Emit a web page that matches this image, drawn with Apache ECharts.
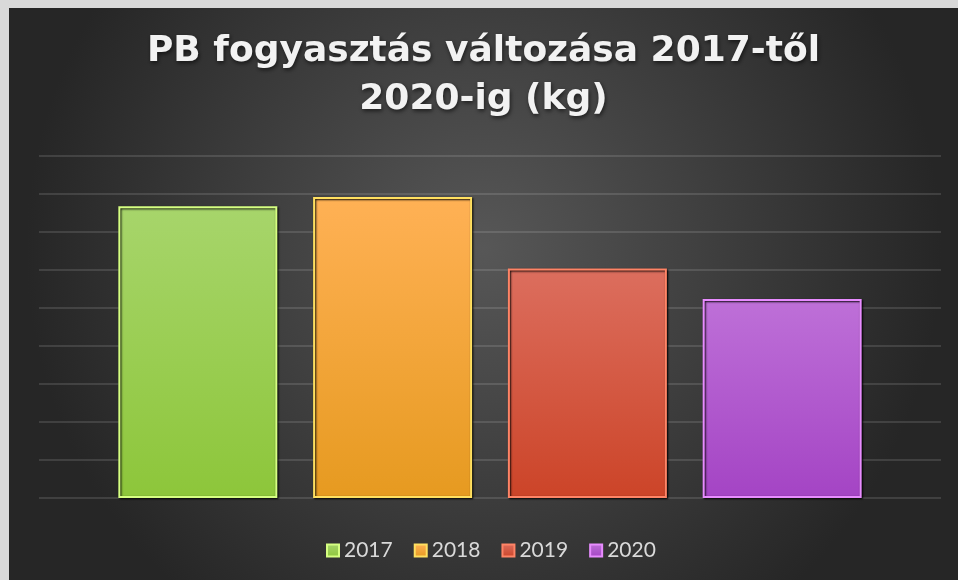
<!DOCTYPE html>
<html>
<head>
<meta charset="utf-8">
<script src="https://cdn.jsdelivr.net/npm/echarts@6/dist/echarts.min.js"></script>
<style>
  html, body { margin: 0; padding: 0; background: #d9d9d9; }
  #chart { position: absolute; left: 9px; top: 8px; width: 949px; height: 572px; }
</style>
</head>
<body>
<div id="chart"></div>
<script>
const years = ['2017', '2018', '2019', '2020'];
const values = [7.68, 7.92, 6.04, 5.24];
const titleText = 'PB fogyasztás változása 2017-től\n2020-ig (kg)';

// top / bottom gradient colours, light inner edge
const topColors = ['#a7d56b', '#ffb155', '#dc6e5e', '#be70d8'];
const bottomColors = ['#8dc63a', '#e69a20', '#cc4428', '#a444c4'];
const edgeColors = ['#d6ff82', '#ffe060', '#ff8466', '#e88cff'];

const chart = echarts.init(document.getElementById('chart'));

chart.setOption({
  backgroundColor: new echarts.graphic.RadialGradient(0.5, 0.42, 0.8, [
    { offset: 0, color: '#575757' },
    { offset: 1, color: '#262626' }
  ]),
  animation: false,
  title: {
    text: titleText,
    left: 'center',
    top: 15,
    textStyle: {
      color: '#f2f2f2',
      fontFamily: 'DejaVu Sans',
      fontWeight: 'bold',
      fontSize: 36,
      lineHeight: 48,
      textShadowColor: 'rgba(0,0,0,0.6)',
      textShadowBlur: 4,
      textShadowOffsetX: 1,
      textShadowOffsetY: 2
    }
  },
  legend: {
    data: years,
    left: 312,
    top: 527,
    icon: 'rect',
    itemWidth: 12,
    itemHeight: 12,
    itemGap: 21,
    textStyle: { color: '#d9d9d9', fontFamily: 'Lato', fontSize: 21 }
  },
  grid: { left: 30, right: 17, top: 148, bottom: 82 },
  xAxis: {
    type: 'category',
    data: [''],
    axisLine: { show: false },
    axisTick: { show: false },
    axisLabel: { show: false }
  },
  yAxis: {
    type: 'value',
    min: 0,
    max: 9,
    interval: 1,
    axisLine: { show: false },
    axisTick: { show: false },
    axisLabel: { show: false },
    splitLine: { lineStyle: { color: 'rgba(255,255,255,0.12)', width: 2 } }
  },
  series: years.map((y, i) => ({
    name: y,
    type: 'bar',
    data: [values[i]],
    barWidth: 159,
    barGap: '22.5%',
    itemStyle: {
      color: new echarts.graphic.LinearGradient(0, 0, 0, 1, [
        { offset: 0, color: topColors[i] },
        { offset: 1, color: bottomColors[i] }
      ]),
      borderColor: edgeColors[i],
      borderWidth: 2,
      shadowColor: 'rgba(0,0,0,0.95)',
      shadowBlur: 2,
      shadowOffsetX: 1,
      shadowOffsetY: 1
    }
  }))
});
</script>
</body>
</html>
